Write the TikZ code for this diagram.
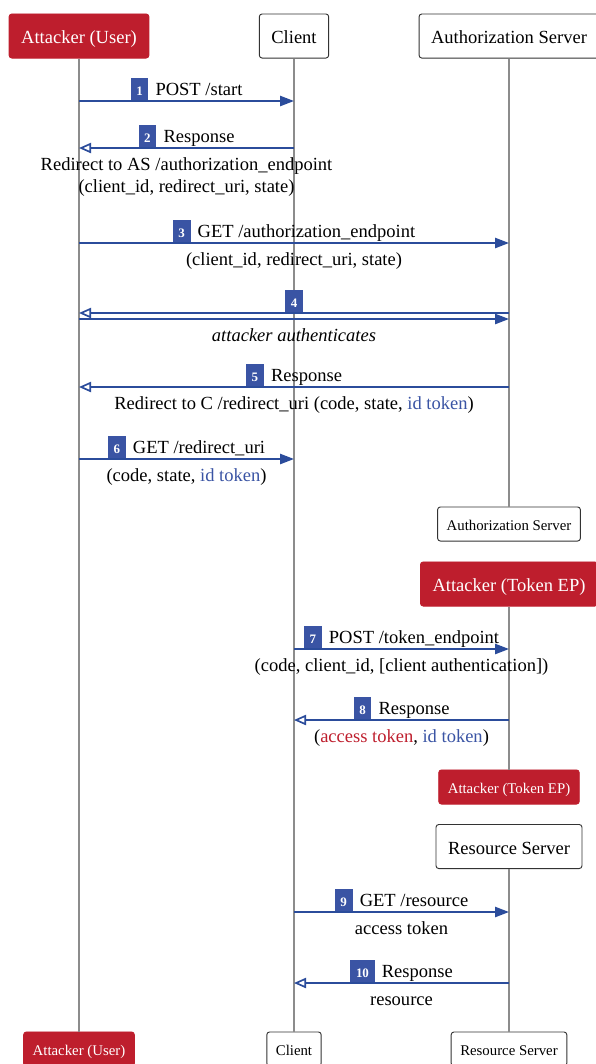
\documentclass[tikz,border=0pt]{standalone}
\usepackage{fontspec}
\setmainfont{Liberation Serif}
\usepackage{xcolor}
\usetikzlibrary{arrows.meta}

\definecolor{atkred}{HTML}{BE1E2D}
\definecolor{msgblue}{HTML}{2B4C9B}
\definecolor{badgeblue}{HTML}{3A54A4}
\definecolor{lifegray}{HTML}{8C8C8C}

\newcommand{\badge}[1]{{\setlength{\fboxsep}{2.5pt}\colorbox{badgeblue}{\rule{0pt}{6.9pt}\hspace{0.6pt}\textcolor{white}{\bfseries\scriptsize #1}\hspace{0.6pt}}}}
\newcommand{\msglabel}[2]{\badge{#1}\hspace{3.8pt}#2}

\begin{document}
\begin{tikzpicture}[x=0.54pt,y=-0.54pt,
    party/.style={draw=black!80, line width=0.5pt, rounded corners=1.5pt, fill=white,
      inner xsep=6.5pt, minimum height=23.8pt, text height=8.6pt, text depth=0pt},
    partysmall/.style={party, font=\footnotesize, inner xsep=4.9pt, minimum height=18.4pt,
      text height=7pt},
    attacker/.style={fill=atkred, draw=atkred, text=white},
    life/.style={draw=lifegray, line width=0.8pt},
    req/.style={draw=msgblue, line width=0.9pt, -{Triangle[length=7.5pt,width=5.5pt]}},
    resp/.style={draw=msgblue, line width=0.9pt, -{Triangle[open,length=6.5pt,width=5.5pt]}},
    lbl/.style={above, inner sep=0pt},
    sub/.style={below, inner sep=4.6pt, align=center, execute at begin node={\vphantom{(}}}]
  \useasboundingbox (0,0) rectangle (595,1064);

  % Parties
  \node[party, attacker] (usr) at (79,36) {Attacker (User)};
  \node[party] (cli) at (294,36) {Client};
  \node[party] (as) at (509,36) {Authorization Server};
  \node[partysmall] (asB) at (509,524) {Authorization Server};
  \node[party, attacker] (atk) at (509,584) {Attacker (Token EP)};
  \node[partysmall, attacker] (atkB) at (509,787) {Attacker (Token EP)};
  \node[party] (rs) at (509,846.5) {Resource Server};
  \node[partysmall, attacker] (usrB) at (79,1049) {Attacker (User)};
  \node[partysmall] (cliB) at (294,1049) {Client};
  \node[partysmall] (rsB) at (509,1049) {Resource Server};

  % Lifelines
  \draw[life] (usr) -- (usrB);
  \draw[life] (cli) -- (cliB);
  \draw[life] (as) -- (asB);
  \draw[life] (atk) -- (atkB);
  \draw[life] (rs) -- (rsB);

  % Step 1
  \coordinate (s1) at (0,101);
  \draw[req] (usr |- s1) -- (cli |- s1)
    node[lbl, midway] (l1) {\msglabel{1}{POST /start}};

  % Step 2
  \coordinate (s2) at (0,148);
  \draw[resp] (cli |- s2) -- (usr |- s2)
    node[lbl, midway] (l2) {\msglabel{2}{Response}}
    node[sub, midway] (d2) {Redirect to AS /authorization\_endpoint\\(client\_id, redirect\_uri, state)};

  % Step 3
  \coordinate (s3) at (0,243);
  \draw[req] (usr |- s3) -- (as |- s3)
    node[lbl, midway] (l3) {\msglabel{3}{GET /authorization\_endpoint}}
    node[sub, midway] (d3) {(client\_id, redirect\_uri, state)};

  % Step 4
  \coordinate (s4a) at (0,313);
  \coordinate (s4b) at (0,319);
  \draw[resp] (as |- s4a) -- (usr |- s4a)
    node[lbl, midway] (l4) {\badge{4}};
  \draw[req] (usr |- s4b) -- (as |- s4b)
    node[sub, midway] (d4) {\textit{attacker authenticates}};

  % Step 5
  \coordinate (s5) at (0,387);
  \draw[resp] (as |- s5) -- (usr |- s5)
    node[lbl, midway] (l5) {\msglabel{5}{Response}}
    node[sub, midway] (d5) {Redirect to C /redirect\_uri (code, state, \textcolor{badgeblue}{id token})};

  % Step 6
  \coordinate (s6) at (0,459);
  \draw[req] (usr |- s6) -- (cli |- s6)
    node[lbl, midway] (l6) {\msglabel{6}{GET /redirect\_uri}}
    node[sub, midway] (d6) {(code, state, \textcolor{badgeblue}{id token})};

  % Step 7
  \coordinate (s7) at (0,649);
  \draw[req] (cli |- s7) -- (atk |- s7)
    node[lbl, midway] (l7) {\msglabel{7}{POST /token\_endpoint}}
    node[sub, midway] (d7) {(code, client\_id, [client authentication])};

  % Step 8
  \coordinate (s8) at (0,720);
  \draw[resp] (atk |- s8) -- (cli |- s8)
    node[lbl, midway] (l8) {\msglabel{8}{Response}}
    node[sub, midway] (d8) {(\textcolor{atkred}{access token}, \textcolor{badgeblue}{id token})};

  % Step 9
  \coordinate (s9) at (0,912);
  \draw[req] (cli |- s9) -- (rs |- s9)
    node[lbl, midway] (l9) {\msglabel{9}{GET /resource}}
    node[sub, midway] (d9) {access token};

  % Step 10
  \coordinate (s10) at (0,983);
  \draw[resp] (rs |- s10) -- (cli |- s10)
    node[lbl, midway] (l10) {\msglabel{10}{Response}}
    node[sub, midway] (d10) {resource};

\end{tikzpicture}
\end{document}
